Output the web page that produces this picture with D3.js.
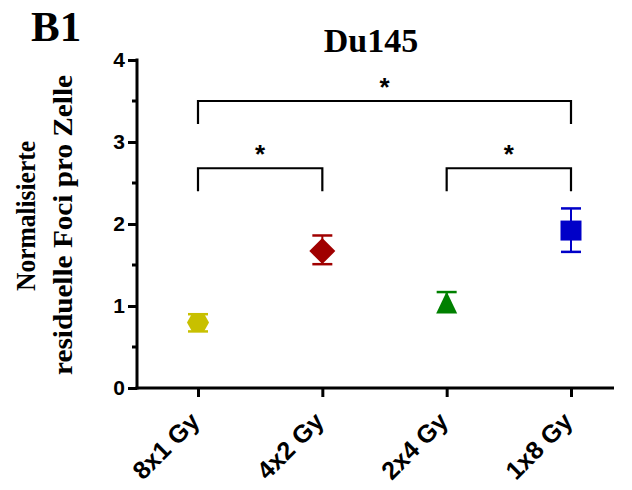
<!DOCTYPE html>
<html>
<head>
<meta charset="utf-8">
<script src="https://cdn.jsdelivr.net/npm/d3@7"></script>
<style>
  body { margin: 0; background: #fff; }
  svg { display: block; }
</style>
</head>
<body>
<div id="viz"></div>
<script>
const groups = ['8x1 Gy', '4x2 Gy', '2x4 Gy', '1x8 Gy'];
const means  = [0.80, 1.67, 1.03, 1.92];
const lower  = [0.69, 1.51, 1.03, 1.66];
const upper  = [0.90, 1.86, 1.17, 2.19];
const colors = ['#c8c000', '#a00000', '#008000', '#0000c8'];
const shapes = ['hexagon', 'diamond', 'triangle', 'square'];
const yTicks = [0, 1, 2, 3, 4];
const yMinor = [0.5, 1.5, 2.5, 3.5];
// significance brackets: [from, to, top, leg end]
const brackets = [
  ['8x1 Gy', '1x8 Gy', 3.5, 3.22],
  ['8x1 Gy', '4x2 Gy', 2.68, 2.4],
  ['2x4 Gy', '1x8 Gy', 2.68, 2.4]
];

const svg = d3.select('#viz').append('svg')
  .attr('width', 632).attr('height', 490);

const x = d3.scalePoint().domain(groups).range([198, 571]);
const y = d3.scaleLinear().domain([0, 4]).range([388, 60]);

const X0 = 137, X1 = 614;

// y axis
const yAxis = svg.append('g')
  .attr('transform', `translate(${X0},0)`)
  .call(d3.axisLeft(y).tickValues(yTicks).tickSize(9).tickPadding(3).tickFormat(d3.format('d')));
yAxis.select('.domain').remove();
yAxis.selectAll('.tick line').attr('stroke', '#000').attr('stroke-width', 3);
yAxis.selectAll('.tick text')
  .attr('font-family', 'Liberation Sans, Arial, sans-serif')
  .attr('font-weight', 'bold').attr('font-size', 21).attr('fill', '#000');
yAxis.selectAll('.minor').data(yMinor).join('line')
  .attr('x1', -5).attr('x2', 0)
  .attr('y1', d => y(d)).attr('y2', d => y(d))
  .attr('stroke', '#000').attr('stroke-width', 3);
svg.append('line')
  .attr('x1', X0).attr('x2', X0).attr('y1', y(4) - 1.5).attr('y2', y(0) + 1.5)
  .attr('stroke', '#000').attr('stroke-width', 3);

// x axis
const xAxis = svg.append('g')
  .attr('transform', `translate(0,${y(0)})`)
  .call(d3.axisBottom(x).tickSize(9).tickFormat(''));
xAxis.select('.domain').remove();
xAxis.selectAll('.tick line').attr('stroke', '#000').attr('stroke-width', 3);
svg.append('line')
  .attr('x1', X0 - 1.5).attr('x2', X1).attr('y1', y(0)).attr('y2', y(0))
  .attr('stroke', '#000').attr('stroke-width', 3);
svg.append('g').selectAll('text').data(groups).join('text')
  .attr('transform', d => `translate(${x(d) + 3},${y(0) + 35}) rotate(-45)`)
  .attr('text-anchor', 'end')
  .attr('font-family', 'Liberation Sans, Arial, sans-serif')
  .attr('font-weight', 'bold').attr('font-size', 25)
  .text(d => d);

// error bars
const eb = svg.append('g');
groups.forEach((g, i) => {
  const cx = x(g), c = colors[i];
  eb.append('line').attr('x1', cx).attr('x2', cx)
    .attr('y1', y(upper[i])).attr('y2', y(lower[i]))
    .attr('stroke', c).attr('stroke-width', 2);
  [upper[i], lower[i]].forEach(v => {
    if (v === means[i]) return;
    eb.append('line').attr('x1', cx - 10).attr('x2', cx + 10)
      .attr('y1', y(v)).attr('y2', y(v))
      .attr('stroke', c).attr('stroke-width', 2.5);
  });
});

// markers
function shapePath(s) {
  if (s === 'hexagon') return 'M-11,0 L-6,-9 L6,-9 L11,0 L6,9 L-6,9 Z';
  if (s === 'diamond') return 'M0,-13 L13,0 L0,13 L-13,0 Z';
  if (s === 'triangle') return 'M0,-12 L10.5,10 L-10.5,10 Z';
  return 'M-10.5,-10 L10.5,-10 L10.5,10 L-10.5,10 Z';
}
svg.append('g').selectAll('path').data(groups).join('path')
  .attr('transform', (d, i) => `translate(${x(d)},${y(means[i])})`)
  .attr('d', (d, i) => shapePath(shapes[i]))
  .attr('fill', (d, i) => colors[i]);

// significance brackets
const br = svg.append('g');
brackets.forEach(([a, b, top, leg]) => {
  br.append('path')
    .attr('d', `M${x(a)},${y(leg)} V${y(top)} H${x(b)} V${y(leg)}`)
    .attr('fill', 'none').attr('stroke', '#000').attr('stroke-width', 2.2);
  br.append('text')
    .attr('x', (x(a) + x(b)) / 2).attr('y', y(top) - 5)
    .attr('text-anchor', 'middle')
    .attr('font-family', 'Liberation Sans, Arial, sans-serif')
    .attr('font-weight', 'bold').attr('font-size', 26)
    .text('*');
});

// titles
svg.append('text')
  .attr('x', 371).attr('y', 52)
  .attr('text-anchor', 'middle')
  .attr('font-family', 'Liberation Serif, Times New Roman, serif')
  .attr('font-weight', 'bold').attr('font-size', 34)
  .text('Du145');
svg.append('text')
  .attr('x', 31).attr('y', 41)
  .attr('font-family', 'Liberation Serif, Times New Roman, serif')
  .attr('font-weight', 'bold').attr('font-size', 43)
  .text('B1');

// y label, two centred lines
const yLines = [
  { t: 'Normalisierte', bx: 35, cy: 216, len: 150 },
  { t: 'residuelle Foci pro Zelle', bx: 72, cy: 225, len: 300 }
];
svg.append('g').selectAll('text').data(yLines).join('text')
  .attr('transform', d => `translate(${d.bx},${d.cy}) rotate(-90)`)
  .attr('text-anchor', 'middle')
  .attr('textLength', d => d.len)
  .attr('lengthAdjust', 'spacingAndGlyphs')
  .attr('font-family', 'Liberation Serif, Times New Roman, serif')
  .attr('font-weight', 'bold').attr('font-size', 28)
  .text(d => d.t);
</script>
</body>
</html>
